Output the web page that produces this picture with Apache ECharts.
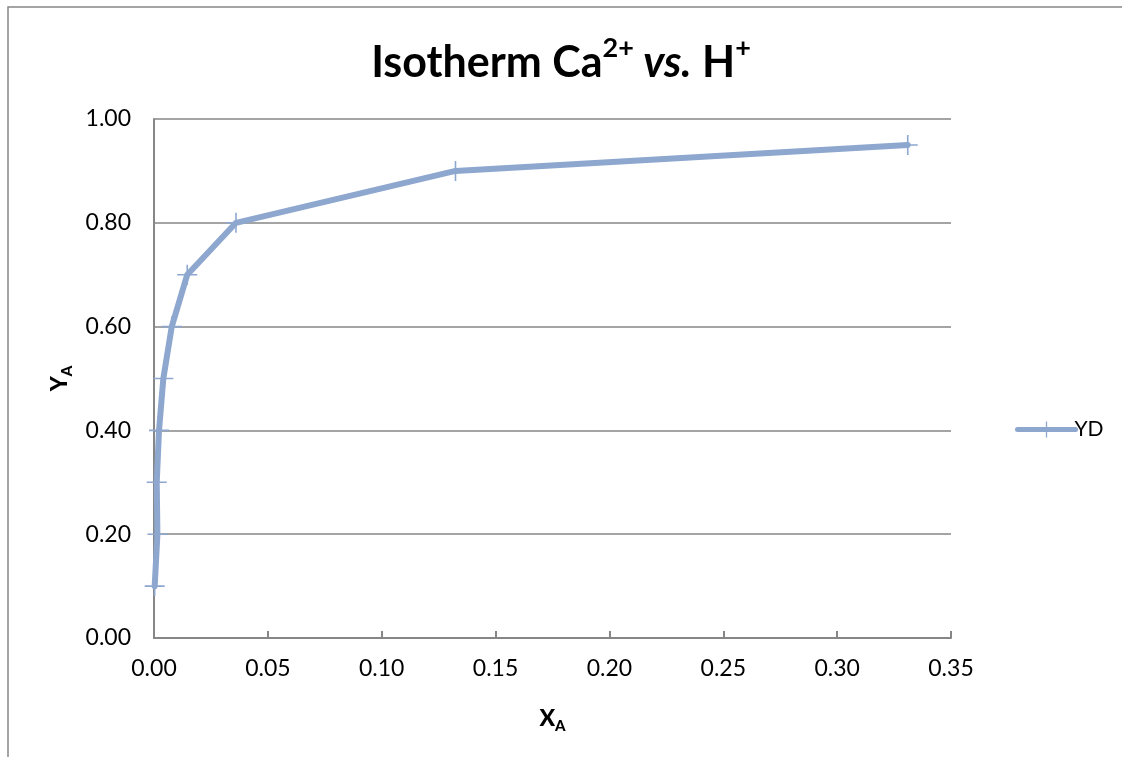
<!DOCTYPE html>
<html>
<head>
<meta charset="utf-8">
<script src="https://cdn.jsdelivr.net/npm/echarts@6/dist/echarts.min.js"></script>
<style>
  html, body { margin: 0; padding: 0; background: #fff; overflow: hidden; }
  #chart { width: 1122px; height: 757px; }
</style>
</head>
<body>
<div id="chart"></div>
<script>
// Equilibrium fractions of Ca2+ in solution (X_A) and on the exchanger (Y_A)
const seriesName = 'YD';
const xA = [0.0003, 0.0015, 0.0012, 0.0022, 0.0041, 0.0078, 0.0146, 0.036, 0.1324, 0.331];
const yA = [0.10, 0.20, 0.30, 0.40, 0.50, 0.60, 0.70, 0.80, 0.90, 0.95];
const xTicks = [0, 0.05, 0.10, 0.15, 0.20, 0.25, 0.30, 0.35];
const yTicks = [0, 0.20, 0.40, 0.60, 0.80, 1.00];

const FONT = 'Lato, "Open Sans", sans-serif';
const LINE = '#8DA7CF';
const AXIS = '#868686';

const points = xA.map((x, i) => [x, yA[i]]);
const crossIcon = 'path://M0,9.2 L20,9.2 L20,10.8 L0,10.8 Z M9.2,0 L10.8,0 L10.8,20 L9.2,20 Z';

const subscriptName = {
  fontFamily: FONT,
  fontWeight: 900,
  fontSize: 23,
  color: '#000',
  rich: {
    main: { fontFamily: FONT, fontWeight: 900, fontSize: 23, color: '#000', lineHeight: 30 },
    low: { fontFamily: FONT, fontWeight: 900, fontSize: 15, color: '#000', lineHeight: 14, verticalAlign: 'bottom' }
  }
};

const chart = echarts.init(document.getElementById('chart'), null, { renderer: 'canvas' });
chart.setOption({
  backgroundColor: '#ffffff',
  animation: false,
  // chart-area frame: top and left edges
  graphic: [{
    type: 'polyline',
    shape: { points: [[8, 757], [8, 7], [1122, 7]] },
    style: { fill: null, stroke: AXIS, lineWidth: 1.5 },
    silent: true
  }],
  title: {
    text: '{m|Isotherm Ca}{s|2+}{i| vs.}{m| H}{s|+}',
    left: 'center',
    top: 30,
    textStyle: {
      rich: {
        m: { fontFamily: FONT, fontWeight: 'bold', fontSize: 43, color: '#000', lineHeight: 50, verticalAlign: 'bottom' },
        i: { fontFamily: FONT, fontWeight: 'bold', fontStyle: 'italic', fontSize: 43, color: '#000', lineHeight: 50, verticalAlign: 'bottom' },
        s: { fontFamily: FONT, fontWeight: 'bold', fontSize: 27, color: '#000', lineHeight: 30, verticalAlign: 'top' }
      }
    }
  },
  legend: {
    orient: 'vertical',
    left: 1010,
    top: 414,
    itemWidth: 58,
    itemHeight: 20,
    itemGap: 4,
    lineStyle: { width: 5, cap: 'round' },
    textStyle: { fontFamily: FONT, fontSize: 21, color: '#000', padding: [0, 0, 0, -6] },
    data: [seriesName]
  },
  grid: { left: 154, top: 119, width: 797, height: 519, containLabel: false },
  xAxis: {
    type: 'value',
    min: xTicks[0],
    max: xTicks[xTicks.length - 1],
    interval: 0.05,
    name: '{main|X}{low|A}',
    nameLocation: 'middle',
    nameGap: 66,
    nameTextStyle: subscriptName,
    axisLine: { show: true, lineStyle: { color: AXIS, width: 2 } },
    axisTick: { show: true, inside: true, length: 7, lineStyle: { color: AXIS, width: 2 } },
    axisLabel: { fontFamily: FONT, fontSize: 23, color: '#000', margin: 19, formatter: v => v.toFixed(2) },
    splitLine: { show: false }
  },
  yAxis: {
    type: 'value',
    min: yTicks[0],
    max: yTicks[yTicks.length - 1],
    interval: 0.2,
    name: '{main|Y}{low|A}',
    nameLocation: 'middle',
    nameRotate: 90,
    nameGap: 76,
    nameTextStyle: subscriptName,
    axisLine: { show: true, lineStyle: { color: AXIS, width: 2 } },
    axisTick: { show: false },
    axisLabel: { fontFamily: FONT, fontSize: 23, color: '#000', margin: 23, formatter: v => v.toFixed(2) },
    splitLine: { show: true, lineStyle: { color: AXIS, width: 1.5 } }
  },
  series: [{
    name: seriesName,
    type: 'line',
    data: points,
    smooth: false,
    symbol: crossIcon,
    symbolSize: 20,
    showAllSymbol: true,
    lineStyle: { color: LINE, width: 6, cap: 'round', join: 'round' },
    itemStyle: { color: LINE },
    z: 3
  }]
});
</script>
</body>
</html>
